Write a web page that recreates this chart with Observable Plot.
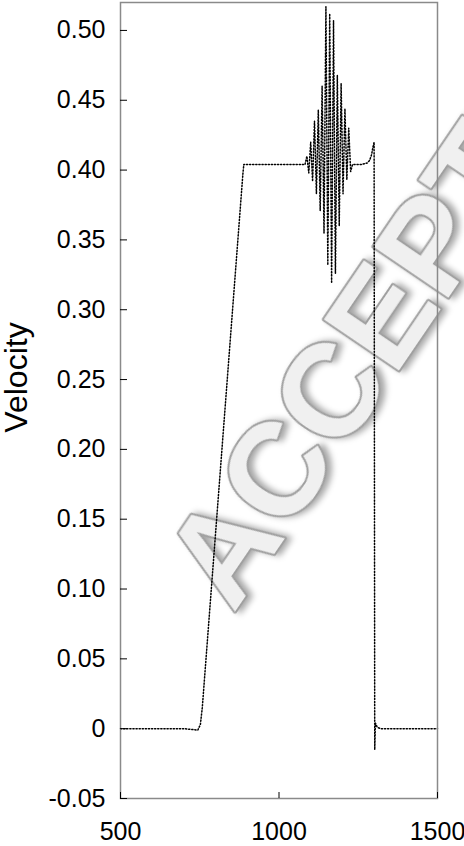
<!DOCTYPE html>
<html><head><meta charset="utf-8">
<script src="https://cdn.jsdelivr.net/npm/d3@7"></script>
<script src="https://cdn.jsdelivr.net/npm/@observablehq/plot@0.6"></script>
<style>body{margin:0;background:#fff}
.wm text{filter: drop-shadow(3px 4px 3px rgba(0,0,0,0.35));}</style>
</head><body><div id="chart"></div>
<script>
const time = [500, 600, 700, 744, 752, 758, 886, 889, 1000, 1082,
  1088, 1094, 1100, 1106, 1112, 1118, 1124, 1130, 1136, 1142, 1148, 1154, 1160, 1166,
  1172, 1178, 1184, 1190, 1196, 1202, 1208, 1214, 1220, 1226,
  1232, 1260, 1278, 1286, 1292, 1296, 1300, 1302, 1304, 1306, 1310, 1320, 1400, 1500];
const velocity = [0, 0, 0, -0.001, 0.003, 0.015, 0.397, 0.404, 0.404, 0.404,
  0.41, 0.398, 0.42, 0.392, 0.435, 0.383, 0.443, 0.371, 0.46, 0.355, 0.517, 0.332, 0.512, 0.319,
  0.507, 0.326, 0.468, 0.36, 0.462, 0.383, 0.444, 0.393, 0.43, 0.399,
  0.404, 0.404, 0.405, 0.407, 0.411, 0.416, 0.42, -0.015, 0.004, 0.003, 0.001, 0, 0, 0];
const yTicks = [-0.05, 0, 0.05, 0.10, 0.15, 0.20, 0.25, 0.30, 0.35, 0.40, 0.45, 0.50];
const yTickLabels = ["-0.05", "0", "0.05", "0.10", "0.15", "0.20", "0.25", "0.30", "0.35", "0.40", "0.45", "0.50"];
const xTicks = [500, 1000, 1500];
const xTickLabels = ["500", "1000", "1500"];
const yLabel = "Velocity";
const watermark = "ACCEPTED";

const data = time.map((t, i) => ({t, v: velocity[i]}));
const chart = Plot.plot({
  width: 464, height: 846,
  marginLeft: 120, marginRight: 27, marginTop: 2, marginBottom: 48,
  style: {fontFamily: "'Liberation Sans', Arial, sans-serif", fontSize: "25px", background: "white", color: "black"},
  x: {domain: [500, 1500]},
  y: {domain: [-0.05, 0.52]},
  marks: [
    Plot.text([watermark], {frameAnchor: "top-left", dx: 282, dy: 288, rotate: -55.8, fontSize: 132,
      fontWeight: "bold", textAnchor: "middle", lineAnchor: "middle", className: "wm",
      fill: "#f0f0f0", stroke: "#a0a0a0", strokeWidth: 4, text: d => d}),
    Plot.line(data, {x: "t", y: "v", stroke: "black", strokeWidth: 1.5, strokeDasharray: "1.2,1.9"}),
    Plot.frame({stroke: "#8a8a8a", strokeWidth: 1.5}),
    Plot.tickY(yTicks, {y: d => d, insetRight: 310, stroke: "black", strokeWidth: 1}),
    Plot.tickX(xTicks, {x: d => d, insetTop: 790, stroke: "black", strokeWidth: 1}),
    Plot.axisY(yTicks, {tickSize: 0, tickPadding: 15, tickFormat: d => yTickLabels[yTicks.indexOf(d)], fontSize: 25, label: null}),
    Plot.axisX(xTicks, {tickSize: 0, tickPadding: 24, tickFormat: d => xTickLabels[xTicks.indexOf(d)], fontSize: 25, label: null}),
    Plot.text([yLabel], {frameAnchor: "left", dx: -104, dy: -23, rotate: -90, fontSize: 32,
      textAnchor: "middle", lineAnchor: "middle", text: d => d})
  ]
});
document.getElementById("chart").appendChild(chart);
</script>
</body></html>
